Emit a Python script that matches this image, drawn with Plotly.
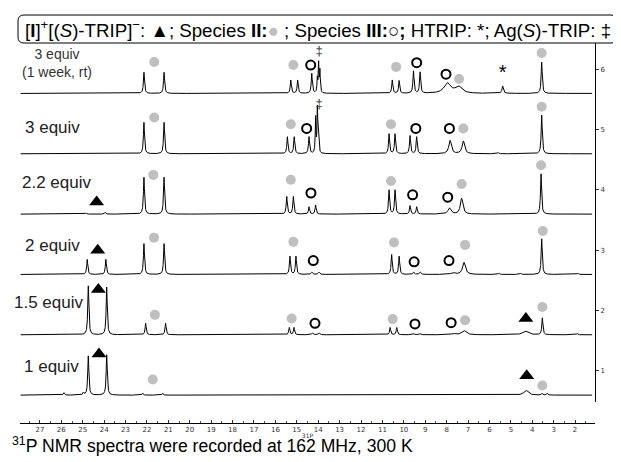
import numpy as np
import plotly.graph_objects as go

# ---------------- data ----------------
spectrum_labels = ["1 equiv", "1.5 equiv", "2 equiv", "2.2 equiv", "3 equiv", "3 equiv<br>(1 week, rt)"]
offsets = [0.6, 1.6, 2.6, 3.6, 4.6, 5.6]

# peak lists: chemical shift (ppm), height (stack units), half-width (ppm)
s1_ppm = [25.88, 24.97, 24.74, 23.88, 22.20, 21.27, 4.29, 3.54, 3.30, 2.20]
s1_h   = [0.04, 0.04, 0.65, 0.67, 0.03, 0.03, 0.08, 0.03, 0.03, 0.01]
s1_w   = [0.03, 0.03, 0.03, 0.03, 0.03, 0.03, 0.12, 0.03, 0.03, 0.03]

s15_ppm = [24.74, 23.88, 22.06, 21.13, 15.35, 15.13, 14.27, 13.96, 10.64, 10.33, 9.55, 9.24, 7.69, 7.19, 4.32, 3.53, 1.90]
s15_h   = [0.81, 0.79, 0.19, 0.19, 0.12, 0.12, 0.03, 0.03, 0.12, 0.12, 0.02, 0.02, 0.02, 0.07, 0.06, 0.28, 0.02]
s15_w   = [0.03, 0.03, 0.03, 0.03, 0.03, 0.03, 0.04, 0.04, 0.03, 0.03, 0.04, 0.04, 0.10, 0.12, 0.15, 0.03, 0.03]

s2_ppm = [24.79, 23.92, 22.14, 21.20, 15.32, 15.04, 14.30, 13.96, 10.57, 10.22, 9.55, 9.24, 7.70, 7.19, 5.55, 4.54, 3.56, 1.87]
s2_h   = [0.25, 0.25, 0.51, 0.51, 0.30, 0.30, 0.04, 0.04, 0.33, 0.30, 0.04, 0.04, 0.03, 0.20, 0.02, 0.02, 0.59, 0.02]
s2_w   = [0.03, 0.03, 0.03, 0.03, 0.03, 0.03, 0.04, 0.04, 0.03, 0.03, 0.04, 0.04, 0.10, 0.08, 0.03, 0.03, 0.03, 0.03]

s22_ppm = [24.85, 23.95, 22.14, 21.20, 15.47, 15.16, 14.43, 14.12, 10.69, 10.41, 9.71, 9.40, 7.87, 7.30, 3.59]
s22_h   = [0.02, 0.03, 0.61, 0.61, 0.29, 0.29, 0.12, 0.15, 0.40, 0.40, 0.14, 0.12, 0.10, 0.26, 0.67]
s22_w   = [0.03, 0.03, 0.03, 0.03, 0.03, 0.03, 0.03, 0.03, 0.03, 0.03, 0.03, 0.03, 0.08, 0.07, 0.03]

s3_ppm = [22.14, 21.20, 15.44, 15.12, 14.43, 14.12, 14.04, 14.00, 10.69, 10.41, 9.71, 9.40, 7.84, 7.22, 5.60, 3.56]
s3_h   = [0.52, 0.52, 0.28, 0.28, 0.28, 0.58, 0.69, 0.39, 0.33, 0.33, 0.30, 0.28, 0.22, 0.21, 0.02, 0.64]
s3_w   = [0.03, 0.03, 0.03, 0.03, 0.03, 0.02, 0.02, 0.02, 0.03, 0.03, 0.03, 0.03, 0.07, 0.07, 0.03, 0.03]

s3w_ppm = [24.80, 23.90, 22.14, 21.20, 15.28, 14.96, 14.30, 14.04, 13.98, 13.92, 10.54, 10.22, 9.55, 9.24, 7.97, 7.45, 5.38, 3.56, 2.20]
s3w_h   = [0.01, 0.01, 0.35, 0.35, 0.22, 0.22, 0.33, 0.23, 0.48, 0.36, 0.22, 0.21, 0.37, 0.35, 0.17, 0.11, 0.12, 0.52, 0.01]
s3w_w   = [0.03, 0.03, 0.03, 0.03, 0.03, 0.03, 0.03, 0.02, 0.02, 0.02, 0.03, 0.03, 0.03, 0.03, 0.18, 0.18, 0.04, 0.03, 0.03]

peak_ppm = [s1_ppm, s15_ppm, s2_ppm, s22_ppm, s3_ppm, s3w_ppm]
peak_h = [s1_h, s15_h, s2_h, s22_h, s3_h, s3w_h]
peak_w = [s1_w, s15_w, s2_w, s22_w, s3_w, s3w_w]

# annotation symbols (ppm, stack units)
gray_ppm = [21.66, 15.16, 10.36, 7.42, 3.56,
            21.66, 15.28, 10.60, 7.22, 3.56,
            21.70, 15.28, 10.60, 7.30, 3.59,
            21.67, 15.16, 10.46, 7.14, 3.51,
            21.63, 15.24, 10.52, 7.14, 3.53,
            21.73, 3.53]
gray_y = [6.12, 6.07, 6.04, 5.84, 6.27,
          5.20, 5.09, 5.09, 5.02, 5.38,
          4.25, 4.17, 4.15, 4.10, 4.41,
          3.21, 3.14, 3.13, 3.09, 3.32,
          1.93, 1.87, 1.86, 1.84, 2.06,
          0.86, 0.76]
open_ppm = [14.35, 9.40, 8.03,
            14.54, 9.44, 7.87,
            14.34, 9.59, 7.95,
            14.23, 9.52, 7.89,
            14.15, 9.48, 7.79]
open_y = [6.07, 6.11, 5.92,
          5.02, 5.02, 5.02,
          3.95, 3.92, 3.88,
          2.83, 2.81, 2.83,
          1.79, 1.78, 1.80]
tri_ppm = [24.35, 24.30, 24.27, 4.30, 24.24, 4.26]
tri_y = [3.80, 3.00, 2.35, 1.87, 1.28, 0.92]
dagger_ppm = [13.96, 13.96]
dagger_y = [6.29, 5.41]
star_ppm = [5.38]
star_y = [5.92]

x_ticks = list(range(2, 28))

# ---------------- layout geometry ----------------
# page body has an 8px margin; all pixel values below are window pixels
OFF = 8
FW, FH = 621 - OFF, 462 - OFF
L, R, T, B = 20, 595, 43, 423
W, H = R - L, B - T
def px(x):
    return (x - L) / W
def py(y):
    return (B - y) / H

FONT = "Liberation Sans, Arial, sans-serif"

fig = go.Figure()
grid = np.arange(27.9, 1.2, -0.004)
for i in range(len(offsets)):
    y = np.full_like(grid, offsets[i])
    for p, h, w in zip(peak_ppm[i], peak_h[i], peak_w[i]):
        y += h * w**2 / ((grid - p) ** 2 + w**2)
    fig.add_trace(go.Scatter(x=grid, y=y, mode="lines",
                             line=dict(color="black", width=1), hoverinfo="skip"))

fig.add_trace(go.Scatter(x=gray_ppm, y=gray_y, mode="markers",
                         marker=dict(symbol="circle", size=10, color="#bfbfbf")))
fig.add_trace(go.Scatter(x=open_ppm, y=open_y, mode="markers",
                         marker=dict(symbol="circle-open", size=9, color="black",
                                     line=dict(width=2, color="black"))))
fig.add_trace(go.Scatter(x=tri_ppm, y=tri_y, mode="markers",
                         marker=dict(symbol="triangle-up", size=13, color="black")))
fig.add_trace(go.Scatter(x=dagger_ppm, y=dagger_y, mode="text", text=["‡"] * len(dagger_ppm),
                         marker=dict(color="#333"),
                         textfont=dict(size=13, color="#333333", family=FONT)))
fig.add_trace(go.Scatter(x=star_ppm, y=star_y, mode="text", text=["*"] * len(star_ppm),
                         marker=dict(color="black"),
                         textfont=dict(size=20, color="#000000", family=FONT)))

# spectrum labels
label_pos = [(51.5, 366, 17), (48.5, 302, 17), (52, 245, 17), (56.5, 182, 17), (52, 127, 17), (57, 63, 14)]
for lab, (lx, ly, fs) in zip(spectrum_labels, label_pos):
    fig.add_annotation(x=px(lx), y=py(ly), xref="paper", yref="paper", text=lab,
                       showarrow=False, xanchor="center", yanchor="middle",
                       font=dict(size=fs, color="#222" if fs > 14 else "#333", family=FONT))

# legend box (rounded)
x0, x1, y0, y1, r = 18, 617, 15, 43, 6
path = (f"M {px(x0 + r)},{py(y0)} L {px(x1 - r)},{py(y0)} Q {px(x1)},{py(y0)} {px(x1)},{py(y0 + r)} "
        f"L {px(x1)},{py(y1 - r)} Q {px(x1)},{py(y1)} {px(x1 - r)},{py(y1)} "
        f"L {px(x0 + r)},{py(y1)} Q {px(x0)},{py(y1)} {px(x0)},{py(y1 - r)} "
        f"L {px(x0)},{py(y0 + r)} Q {px(x0)},{py(y0)} {px(x0 + r)},{py(y0)} Z")
fig.add_shape(type="path", path=path, xref="paper", yref="paper",
              line=dict(color="black", width=1))
legend_text = ("[<b>I</b>]<sup>+</sup>[(<i>S</i>)-TRIP]<sup>−</sup>: ▲; Species <b>II:</b>"
               "<span style='color:#bfbfbf'>●</span> ; Species <b>III:</b>○<b>;</b> HTRIP: *; "
               "Ag(<i>S</i>)-TRIP: ‡")
fig.add_annotation(x=px(318), y=py(29), xref="paper", yref="paper", text=legend_text,
                   showarrow=False, xanchor="center", yanchor="middle",
                   font=dict(size=18.7, color="black", family=FONT))

fig.add_annotation(x=px(10), y=py(445), xref="paper", yref="paper",
                   text="<sup>31</sup>P NMR spectra were recorded at 162 MHz, 300 K",
                   showarrow=False, xanchor="left", yanchor="middle",
                   font=dict(size=17.6, color="black", family=FONT))

fig.update_layout(
    width=FW, height=FH, showlegend=False,
    margin=dict(l=L - OFF, r=FW - (R - OFF), t=T - OFF, b=FH - (B - OFF), autoexpand=False),
    paper_bgcolor="white", plot_bgcolor="white",
    xaxis=dict(range=[27.93, 1.07], anchor="free", position=0, automargin=False,
               tickvals=x_ticks, ticktext=[str(t) for t in x_ticks],
               ticks="inside", ticklen=3, tickcolor="#333",
               minor=dict(dtick=0.5, ticks="inside", ticklen=2, tickcolor="#555"),
               showline=True, linecolor="black", linewidth=1, showgrid=False, zeroline=False,
               tickfont=dict(size=7, color="#333", family="DejaVu Sans"),
               title=dict(text="31P", font=dict(size=6, color="#333", family="DejaVu Sans"), standoff=0)),
    yaxis=dict(range=[0.486, 6.436], domain=[(B - 402) / H, 1], side="right", automargin=False,
               tickvals=[1, 2, 3, 4, 5, 6], ticks="outside", ticklen=3, tickcolor="#333",
               showline=True, linecolor="black", linewidth=1, showgrid=False, zeroline=False,
               tickfont=dict(size=7, color="#333", family="DejaVu Sans")),
)

fig.write_html("out.html")
